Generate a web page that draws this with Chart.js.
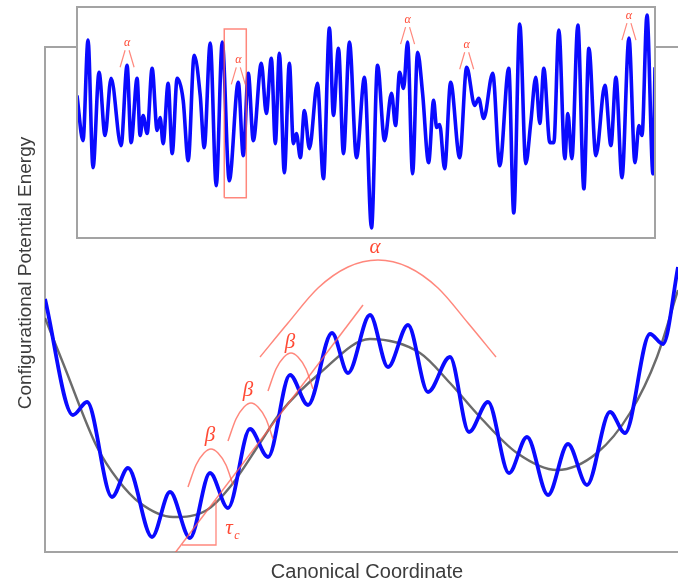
<!DOCTYPE html>
<html>
<head>
<meta charset="utf-8">
<script src="https://cdn.jsdelivr.net/npm/chart.js@4.4.1/dist/chart.umd.min.js"></script>
<style>
  html, body { margin: 0; padding: 0; background: #fff; }
  #wrap { position: relative; width: 678px; height: 585px; overflow: hidden; }
  #main { position: absolute; left: 0; top: 0; }
  #inset { position: absolute; left: 75px; top: 5px; }
</style>
</head>
<body>
<div id="wrap">
  <canvas id="main" width="678" height="585"></canvas>
  <canvas id="inset" width="582" height="235"></canvas>
</div>
<script>
// ---- Energy landscape (canonical coordinate vs. configurational potential energy) ----
// Rugged landscape: local maxima / minima of the fine-grained surface
const coordRough  = [0, 0.56, 0.84, 1.34, 1.66, 2.14, 2.50, 2.90, 3.30, 3.66, 4.10, 4.46, 4.90, 5.26, 5.74, 6.06, 6.50,
                     6.86, 7.26, 7.66, 8.10, 8.48, 8.86, 9.28, 9.64, 10.06, 10.46, 10.84, 11.30, 11.60, 12.10, 12.36, 12.66, 12.90];
const energyRough = [5.06, 2.74, 3.00, 1.10, 1.68, 0.30, 1.20, 0.28, 1.58, 0.88, 2.46, 1.90, 3.54, 2.94, 4.38, 3.58, 4.74,
                     3.70, 4.54, 3.20, 3.90, 2.40, 3.00, 1.58, 2.30, 1.14, 2.16, 1.34, 2.80, 2.38, 4.36, 4.16, 5.70, 7.04];

// Smoothed (coarse-grained) landscape
const coordSmooth  = [0, 0.36, 1.04, 1.46, 1.90, 2.56, 3.24, 3.70, 4.30, 4.70, 5.50, 6.50, 7.50, 8.10, 8.70, 9.44, 10.24, 11.04, 11.70, 12.24, 12.66];
const energySmooth = [4.68, 3.78, 2.10, 1.44, 0.98, 0.70, 0.84, 1.30, 2.18, 2.78, 3.58, 4.26, 3.98, 3.38, 2.70, 1.98, 1.64, 1.98, 2.78, 3.90, 5.24];

// Alpha relaxation arc over the central barrier
const alphaArcX = [4.30, 4.86, 5.46, 6.06, 6.66, 7.26, 7.86, 8.46, 9.02];
const alphaArcY = [3.90, 4.58, 5.28, 5.70, 5.84, 5.70, 5.28, 4.58, 3.90];

// Beta hops between neighbouring sub-basins
const beta1X = [2.86, 3.02, 3.18, 3.32, 3.46, 3.62, 3.76];
const beta1Y = [1.30, 1.74, 1.98, 2.06, 1.98, 1.74, 1.34];
const beta2X = [3.66, 3.82, 3.98, 4.12, 4.26, 4.42, 4.56];
const beta2Y = [2.22, 2.66, 2.90, 2.98, 2.90, 2.66, 2.26];
const beta3X = [4.46, 4.62, 4.78, 4.92, 5.06, 5.22, 5.36];
const beta3Y = [3.22, 3.66, 3.90, 3.98, 3.90, 3.66, 3.26];

// Slope line and its tau_c triangle
const slopeX = [2.60, 6.36];
const slopeY = [-0.02, 4.94];
const tauLegX = [2.74, 3.42, 3.42];
const tauLegY = [0.14, 0.14, 1.04];

// Label anchors (data units)
const alphaLabel = { x: 6.60, y: 6.10 };
const betaLabels = [{ x: 3.30, y: 2.34 }, { x: 4.06, y: 3.24 }, { x: 4.90, y: 4.20 }];
const tauLabel   = { x: 3.68, y: 0.48 };

// ---- Potential energy time series ----
const timeSteps = [0, 1.2, 2.2, 3.2, 4.4, 5.6, 6.8, 8.8, 10.0, 10.8, 12.0, 12.6, 13.2, 14.0, 15.0, 16.0, 16.6, 17.2, 18.2, 19.0,
  20.0, 21.2, 22.2, 23.4, 24.6, 25.4, 26.6, 27.8, 29.0, 30.4, 32.2, 33.2, 34.2, 35.2, 36.8, 37.8, 38.8, 39.6, 40.4, 41.4,
  42.4, 43.2, 43.8, 44.6, 45.4, 46.4, 48.0, 49.2, 50.4, 51.2, 52.2, 53.2, 54.4, 55.8, 57.4, 58.8, 60.0, 61.4, 62.8, 63.6,
  64.4, 65.2, 66.0, 67.0, 68.0, 69.0, 70.2, 71.2, 71.8, 72.4, 73.4, 74.6, 76.4, 77.8, 79.4, 80.2, 81.2, 83.0, 84.4, 86.2,
  87.2, 88.4, 89.6, 90.6, 91.6, 92.4, 93.2, 94.4, 95.2, 96.2, 97.4, 98.0, 98.8, 100.0, 101.2, 102.2, 103.6, 105.4, 106.6, 107.6,
  108.8, 110.2, 111.4, 112.2, 112.8, 113.8, 115.0, 115.4];
const signal = [2.7, -1.8, 8.2, -4.5, 5.0, -1.3, 4.4, -2.3, 5.7, -2.0, 4.4, -1.3, 0.7, -1.1, 5.4, -0.8, 0.5, -2.1, 3.9, -3.1,
  4.4, 2.2, -3.8, 6.7, 2.7, -2.5, 7.9, -6.3, 8.0, -5.8, 4.0, -3.3, 4.9, -1.8, 5.9, 0.9, 6.4, -2.1, 6.9, -5.0,
  5.9, -2.1, -1.1, -3.5, 1.2, -2.6, 3.9, -5.6, 9.4, 0.7, 7.4, -3.1, 8.0, -3.5, 4.5, -10.5, 5.7, -1.8, 2.9, -0.3,
  5.0, 3.4, 8.0, -5.1, 7.0, 2.9, -4.0, 2.2, -0.5, -0.2, -4.6, 4.0, -3.5, 5.5, 1.7, 2.4, 0.4, 4.9, -4.3, 5.4,
  -9.0, 9.8, -4.1, 0.0, 4.5, -0.1, 5.4, -2.0, -2.0, 9.2, -3.6, 0.9, -3.6, 9.7, -6.6, 7.4, -3.3, 3.7, -2.3, 4.5,
  -5.5, 8.4, -4.0, -0.3, -1.3, 10.7, -5.1, 5.5];
// Peaks marked as alpha events
const alphaPeaks = [8, 30, 62, 73, 101];
// Highlighted window around one event
const windowX = [29.4, 29.4, 33.8, 33.8, 29.4];
const windowY = [-7.5, 9.3, 9.3, -7.5, -7.5];

const pts = (xs, ys) => xs.map((x, i) => ({ x: x, y: ys[i] }));

const RED_LINE = 'rgba(255, 95, 80, 0.75)';
const RED_TEXT = '#ff4a35';
const FRAME = '#a3a3a3';

function redLine(xs, ys, extra) {
  return Object.assign({
    data: pts(xs, ys), borderColor: RED_LINE, borderWidth: 1.5,
    cubicInterpolationMode: 'monotone', pointRadius: 0, order: 1, fill: false
  }, extra || {});
}

const mainDecor = {
  id: 'mainDecor',
  beforeDatasetsDraw(chart) {
    const { ctx, chartArea: a } = chart;
    ctx.save();
    ctx.strokeStyle = FRAME;
    ctx.lineWidth = 2;
    ctx.beginPath();
    ctx.moveTo(chart.width, a.top); ctx.lineTo(a.left, a.top);
    ctx.lineTo(a.left, a.bottom); ctx.lineTo(chart.width, a.bottom);
    ctx.stroke();
    ctx.restore();
  },
  afterDatasetsDraw(chart) {
    const { ctx } = chart;
    const sx = chart.scales.x, sy = chart.scales.y;
    ctx.save();
    ctx.fillStyle = RED_TEXT;
    ctx.textAlign = 'center';
    ctx.textBaseline = 'middle';
    ctx.font = 'italic 21px "Liberation Serif", "DejaVu Serif", serif';
    ctx.fillText('α', sx.getPixelForValue(alphaLabel.x), sy.getPixelForValue(alphaLabel.y));
    betaLabels.forEach(p => ctx.fillText('β', sx.getPixelForValue(p.x), sy.getPixelForValue(p.y)));
    const tx = sx.getPixelForValue(tauLabel.x), ty = sy.getPixelForValue(tauLabel.y);
    ctx.fillText('τ', tx, ty);
    ctx.font = 'italic 12px "Liberation Serif", "DejaVu Serif", serif';
    ctx.fillText('c', tx + 8, ty + 8);
    ctx.restore();
  },
  afterDraw(chart) {
    const { ctx, chartArea: a } = chart;
    ctx.save();
    ctx.fillStyle = '#3c3c3c';
    ctx.textAlign = 'center';
    ctx.textBaseline = 'middle';
    ctx.font = '20px "Liberation Sans", Arial, sans-serif';
    ctx.fillText('Canonical Coordinate', 367, 572);
    ctx.translate(26, 273);
    ctx.rotate(-Math.PI / 2);
    ctx.font = '19px "Liberation Sans", Arial, sans-serif';
    ctx.fillText('Configurational Potential Energy', 0, 0);
    ctx.restore();
  }
};

new Chart(document.getElementById('main'), {
  type: 'line',
  data: {
    datasets: [
      { data: pts(coordSmooth, energySmooth), borderColor: 'rgba(70,70,70,0.8)', borderWidth: 2.4,
        cubicInterpolationMode: 'monotone', pointRadius: 0, order: 3 },
      { data: pts(coordRough, energyRough), borderColor: '#0a0aff', borderWidth: 3.8,
        cubicInterpolationMode: 'monotone', pointRadius: 0, order: 2 },
      redLine(alphaArcX, alphaArcY),
      redLine(beta1X, beta1Y),
      redLine(beta2X, beta2Y),
      redLine(beta3X, beta3Y),
      redLine(slopeX, slopeY, { cubicInterpolationMode: 'default', tension: 0 }),
      redLine(tauLegX, tauLegY, { cubicInterpolationMode: 'default', tension: 0, borderWidth: 1.3 })
    ]
  },
  options: {
    responsive: false, animation: false, devicePixelRatio: 1,
    layout: { padding: { left: 45, top: 47, right: 0, bottom: 33 } },
    scales: {
      x: { type: 'linear', min: 0, max: 12.66, display: false },
      y: { type: 'linear', min: 0, max: 10.1, display: false }
    },
    plugins: { legend: { display: false }, tooltip: { enabled: false } },
    elements: { point: { radius: 0 } }
  },
  plugins: [mainDecor]
});

const insetDecor = {
  id: 'insetDecor',
  beforeDraw(chart) {
    const { ctx, chartArea: a } = chart;
    ctx.save();
    ctx.fillStyle = '#fff';
    ctx.fillRect(a.left - 1, a.top - 1, a.right - a.left + 2, a.bottom - a.top + 2);
    ctx.restore();
  },
  afterDatasetsDraw(chart) {
    const { ctx, chartArea: a } = chart;
    const sx = chart.scales.x, sy = chart.scales.y;
    ctx.save();
    ctx.strokeStyle = RED_LINE;
    ctx.fillStyle = RED_TEXT;
    ctx.lineWidth = 1.2;
    ctx.textAlign = 'center';
    ctx.textBaseline = 'middle';
    ctx.font = 'italic 12px "Liberation Serif", "DejaVu Serif", serif';
    alphaPeaks.forEach(i => {
      const px = sx.getPixelForValue(timeSteps[i]);
      const py = sy.getPixelForValue(signal[i]);
      ctx.fillText('α', px, py - 22);
      ctx.beginPath();
      ctx.moveTo(px - 2, py - 15); ctx.lineTo(px - 7, py + 2);
      ctx.moveTo(px + 2, py - 15); ctx.lineTo(px + 7, py + 2);
      ctx.stroke();
    });
    ctx.restore();
  },
  afterDraw(chart) {
    const { ctx, chartArea: a } = chart;
    ctx.save();
    ctx.strokeStyle = FRAME;
    ctx.lineWidth = 2;
    ctx.strokeRect(a.left, a.top, a.right - a.left, a.bottom - a.top);
    ctx.restore();
  }
};

new Chart(document.getElementById('inset'), {
  type: 'line',
  data: {
    datasets: [
      { data: pts(timeSteps, signal), borderColor: '#0a0aff', borderWidth: 3.6,
        cubicInterpolationMode: 'monotone', pointRadius: 0, order: 2 },
      { data: pts(windowX, windowY), borderColor: RED_LINE, borderWidth: 1.5, tension: 0,
        pointRadius: 0, order: 1 }
    ]
  },
  options: {
    responsive: false, animation: false, devicePixelRatio: 1,
    layout: { padding: 2 },
    scales: {
      x: { type: 'linear', min: 0, max: 115.4, display: false },
      y: { type: 'linear', min: -11.5, max: 11.5, display: false }
    },
    plugins: { legend: { display: false }, tooltip: { enabled: false } },
    elements: { point: { radius: 0 } }
  },
  plugins: [insetDecor]
});
</script>
</body>
</html>
